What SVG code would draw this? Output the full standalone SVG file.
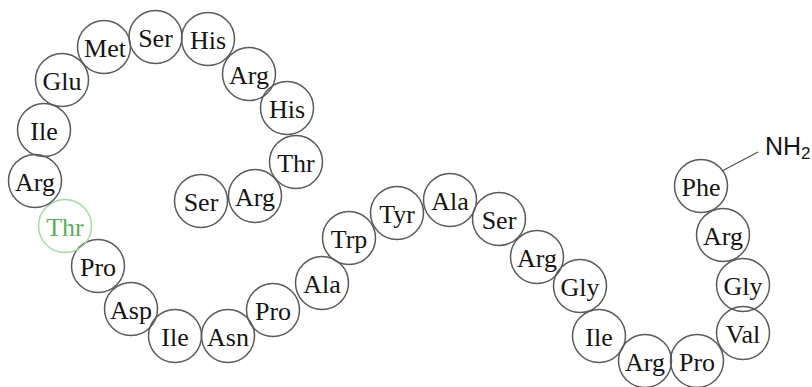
<svg xmlns="http://www.w3.org/2000/svg" width="812" height="387" viewBox="0 0 812 387">
<style>
.n circle{fill:none;stroke:#5a5a5a;stroke-width:1.5}
.n text{font-family:"Liberation Serif","Times New Roman",serif;font-size:26px;fill:#151515;text-anchor:middle}
.g circle{stroke:#a6d9a6}
.g text{fill:#5aae5a}
.c line{stroke:#555;stroke-width:1.4}
.nh{font-family:"Liberation Sans",Arial,sans-serif;fill:#151515}
</style>
<rect width="812" height="387" fill="#fff"/>
<g id="connectors" class="c">
<line x1="722" y1="171" x2="758" y2="152"/>
</g>
<g id="nh2"><text class="nh" x="765" y="155" font-size="25">NH<tspan font-size="17" dy="4">2</tspan></text></g>
<g id="r1" class="n"><circle cx="701" cy="186" r="26.5"/><text x="701" y="195.5">Phe</text></g>
<g id="r2" class="n"><circle cx="723" cy="235" r="26.5"/><text x="723" y="244.5">Arg</text></g>
<g id="r3" class="n"><circle cx="743" cy="285" r="26.5"/><text x="743" y="294.5">Gly</text></g>
<g id="r4" class="n"><circle cx="743" cy="333" r="26.5"/><text x="743" y="342.5">Val</text></g>
<g id="r5" class="n"><circle cx="697" cy="361" r="26.5"/><text x="697" y="370.5">Pro</text></g>
<g id="r6" class="n"><circle cx="645" cy="361" r="26.5"/><text x="645" y="370.5">Arg</text></g>
<g id="r7" class="n"><circle cx="599" cy="336" r="26.5"/><text x="599" y="345.5">Ile</text></g>
<g id="r8" class="n"><circle cx="580" cy="286" r="26.5"/><text x="580" y="295.5">Gly</text></g>
<g id="r9" class="n"><circle cx="537" cy="257" r="26.5"/><text x="537" y="266.5">Arg</text></g>
<g id="r10" class="n"><circle cx="499" cy="219" r="26.5"/><text x="499" y="228.5">Ser</text></g>
<g id="r11" class="n"><circle cx="450" cy="200" r="26.5"/><text x="450" y="209.5">Ala</text></g>
<g id="r12" class="n"><circle cx="397" cy="213" r="26.5"/><text x="397" y="222.5">Tyr</text></g>
<g id="r13" class="n"><circle cx="349" cy="238" r="26.5"/><text x="349" y="247.5">Trp</text></g>
<g id="r14" class="n"><circle cx="322" cy="283" r="26.5"/><text x="322" y="292.5">Ala</text></g>
<g id="r15" class="n"><circle cx="273" cy="310" r="26.5"/><text x="273" y="319.5">Pro</text></g>
<g id="r16" class="n"><circle cx="228" cy="336" r="26.5"/><text x="228" y="345.5">Asn</text></g>
<g id="r17" class="n"><circle cx="175" cy="336" r="26.5"/><text x="175" y="345.5">Ile</text></g>
<g id="r18" class="n"><circle cx="131" cy="309" r="26.5"/><text x="131" y="318.5">Asp</text></g>
<g id="r19" class="n"><circle cx="98" cy="266" r="26.5"/><text x="98" y="275.5">Pro</text></g>
<g id="r20" class="n g"><circle cx="65" cy="226" r="26.5"/><text x="65" y="235.5">Thr</text></g>
<g id="r21" class="n"><circle cx="35" cy="181" r="26.5"/><text x="35" y="190.5">Arg</text></g>
<g id="r22" class="n"><circle cx="44" cy="130" r="26.5"/><text x="44" y="139.5">Ile</text></g>
<g id="r23" class="n"><circle cx="62" cy="80" r="26.5"/><text x="62" y="89.5">Glu</text></g>
<g id="r24" class="n"><circle cx="104" cy="47" r="26.5"/><text x="105" y="56.5">Met</text></g>
<g id="r25" class="n"><circle cx="155.5" cy="37" r="26.5"/><text x="155.5" y="46.5">Ser</text></g>
<g id="r26" class="n"><circle cx="208" cy="39" r="26.5"/><text x="208" y="48.5">His</text></g>
<g id="r27" class="n"><circle cx="249" cy="74" r="26.5"/><text x="249" y="83.5">Arg</text></g>
<g id="r28" class="n"><circle cx="287" cy="108" r="26.5"/><text x="287" y="117.5">His</text></g>
<g id="r29" class="n"><circle cx="296" cy="162" r="26.5"/><text x="296" y="171.5">Thr</text></g>
<g id="r30" class="n"><circle cx="255" cy="196" r="26.5"/><text x="255" y="205.5">Arg</text></g>
<g id="r31" class="n"><circle cx="201" cy="201" r="26.5"/><text x="201" y="210.5">Ser</text></g>
</svg>
